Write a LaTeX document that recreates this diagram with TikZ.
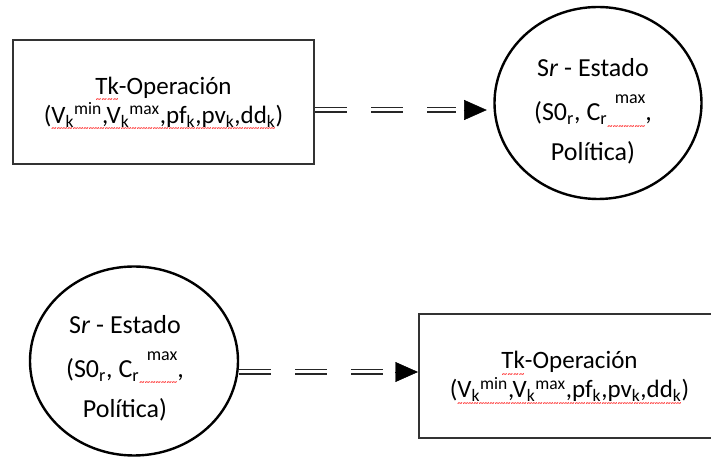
\documentclass[tikz,border=0pt]{standalone}
\usepackage{fontspec}
\setmainfont{Carlito}
\usepackage{tikz}
\usetikzlibrary{arrows.meta}
\usetikzlibrary{shapes.geometric}
\usetikzlibrary{calc}
\newsavebox{\wavebox}
\newcommand{\redwave}[1]{\sbox{\wavebox}{#1}\rlap{\raisebox{-6.5pt}[0pt][0pt]{\color{red}\fontsize{8}{8}\selectfont\hbox to \wd\wavebox{\xleaders\hbox{\char`\~}\hfill}}}\usebox{\wavebox}}
\newcommand{\maxup}[1]{\raisebox{12.75pt}{\fontsize{13.5}{13.5}\selectfont #1}}
\tikzset{opbox/.style = {draw = black!80, line width = 1.5pt, rectangle, minimum width = 225.75pt, minimum height = 93pt, inner sep = 0, align = center, font = \fontsize{18.75}{21.75}\selectfont},
  statecirc/.style = {draw, ellipse, line width = 1.8pt, inner sep = 0},
  statetext/.style = {align = center, inner sep = 0, font = \fontsize{19.5}{30}\selectfont},
  dblline/.style = {draw = black!85, double = white, double distance = 2.25pt, line width = 1.1pt, dash pattern = on 24pt off 18pt, shorten > = 23.25pt},
  headtip/.style = {-{Triangle[length = 17pt, width = 15pt]}, line width = 0.3pt}}

\begin{document}
\begin{tikzpicture}[x=0.75pt, y=-0.75pt]
      \useasboundingbox (0, 0) rectangle (711, 459);
      \clip (0, 0) rectangle (711, 459);

      \node [opbox] at (163.5, 102) (topbox) {\redwave{Tk}-Operación\\
        (\redwave{V\textsubscript{k}\textsuperscript{min},V\textsubscript{k}\textsuperscript{max},pf\textsubscript{k},pv\textsubscript{k},dd\textsubscript{k}})};
      \node [statecirc, minimum width = 155.25pt, minimum height = 144pt] at (598, 103) (topcirc) {};
      \node [statetext] at (593, 111.5) (toptext) {S\textit{r} - Estado\\[3pt]
        (S0\textsubscript{r}, C\textsubscript{r}\redwave{\makebox[28.5pt][r]{\maxup{max}}},\\
        Política)};

      \node [statecirc, minimum width = 156pt, minimum height = 141.75pt] at (134, 361) (botcirc) {};
      \node [statetext] at (125, 368) (bottext) {S\textit{r} - Estado\\[3pt]
        (S0\textsubscript{r}, C\textsubscript{r}\redwave{\makebox[28.5pt][r]{\maxup{max}}},\\
        Política)};
      \node [opbox] at (569.5, 376.5) (botbox) {\redwave{Tk}-Operación\\
        (\redwave{V\textsubscript{k}\textsuperscript{min},V\textsubscript{k}\textsuperscript{max},pf\textsubscript{k},pv\textsubscript{k},dd\textsubscript{k}})};

      \draw [dblline] ($(topbox.east) + (0, 8)$) -- ($(topcirc.west) + (-6.5, 7)$);
      \draw [headtip] ($(topcirc.west) + (-29.5, 7)$) -- ($(topcirc.west) + (-6.5, 7)$);
      \draw [dblline] ($(botcirc.east) + (0, 11)$) -- ($(botbox.west) + (0, -4.5)$);
      \draw [headtip] ($(botbox.west) + (-23, -4.5)$) -- ($(botbox.west) + (0, -4.5)$);

      % the lower box runs past the right edge, as in the source
    \end{tikzpicture}
\end{document}
